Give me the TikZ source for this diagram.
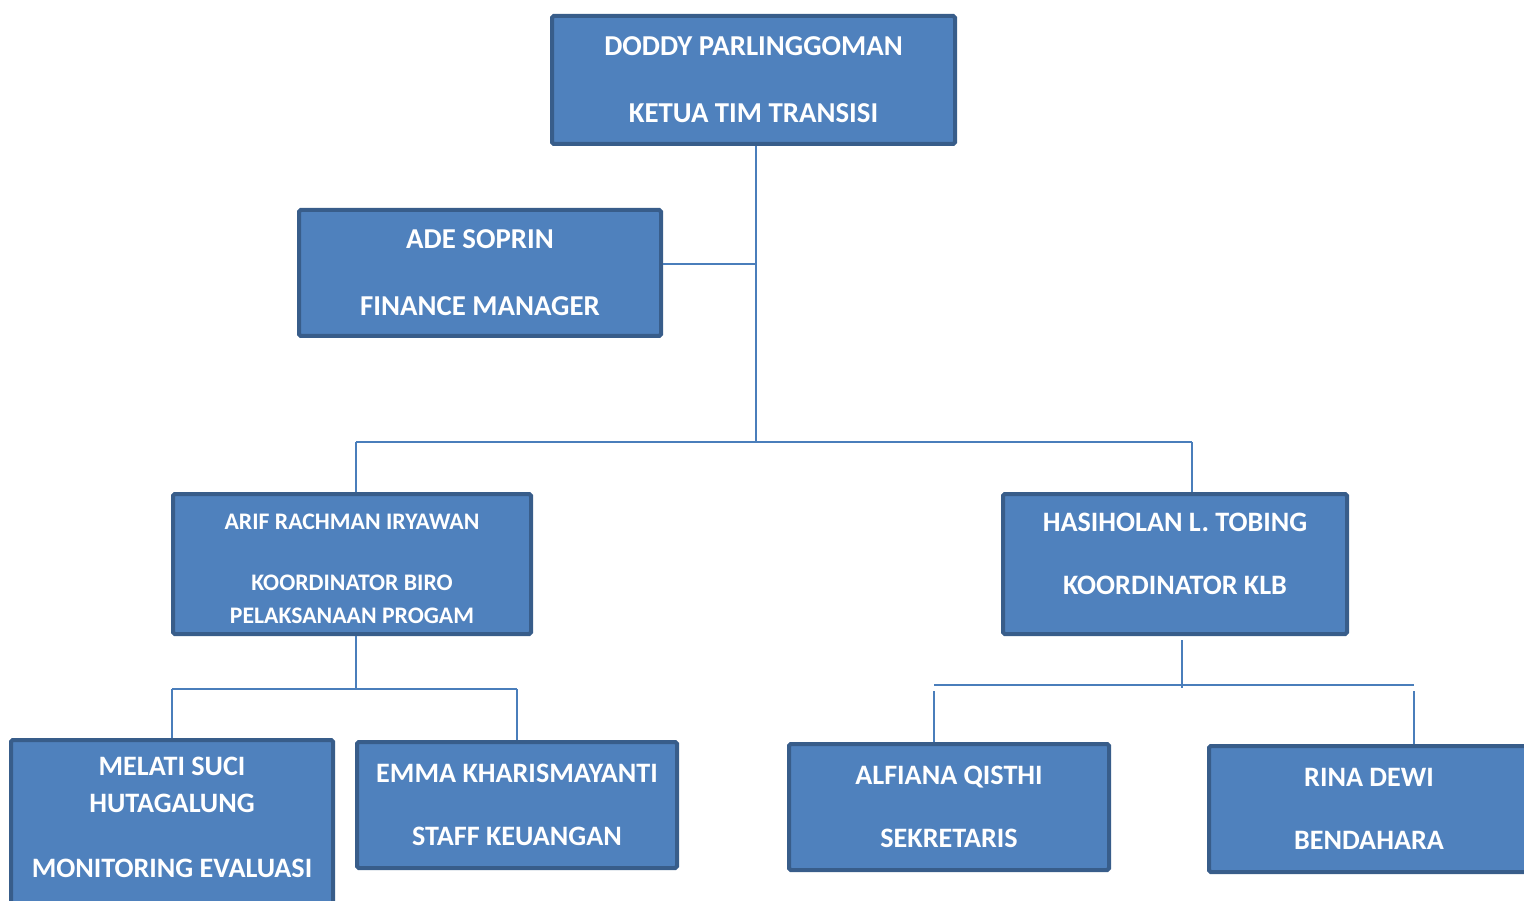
\documentclass[tikz,border=0pt]{standalone}
\usepackage{fontspec}
\setmainfont{Carlito}
\usepackage{tikz}
\usetikzlibrary{positioning}

\definecolor{boxfill}{HTML}{4F81BD}
\definecolor{boxline}{HTML}{385D8A}
\definecolor{linkline}{HTML}{4A7EBB}

\begin{document}
\begin{tikzpicture}[
        every node/.style={draw=boxline, fill=boxfill, line width=0.08cm, rounded corners=1pt,
            text=white, align=center, inner sep=0pt,
            font=\bfseries\fontsize{16}{19}\selectfont},
        wide/.style={minimum width=#1},
        tall/.style={minimum height=#1},
        bigtext/.style={font=\bfseries\fontsize{16.4}{19}\selectfont},
        smalltext/.style={font=\bfseries\fontsize{13.5}{18.7}\selectfont},
        link/.style={linkline, line width=0.04cm}
      ]
        \useasboundingbox (0,0) rectangle (30.48,-18.02);
        \clip (0,0) rectangle (30.48,-18.02);

        \node[wide=8.06cm, tall=2.56cm, bigtext] (doddy) at (15.07,-1.60) {DODDY PARLINGGOMAN\\[19pt]KETUA TIM TRANSISI};
        \node[wide=7.24cm, tall=2.52cm, bigtext] (ade) at (9.60,-5.46) {ADE SOPRIN\\[19pt]FINANCE MANAGER};
        \node[wide=7.16cm, tall=2.80cm, smalltext] (arif) at (7.04,-11.28) {\\[-0.16cm]ARIF RACHMAN IRYAWAN\\[16pt]KOORDINATOR BIRO\\PELAKSANAAN PROGAM};
        \node[wide=6.88cm, tall=2.80cm] (hasi) at (23.50,-11.28) {HASIHOLAN L. TOBING\\[17pt]KOORDINATOR KLB\\[-0.25cm]};
        \node[wide=6.44cm, tall=3.40cm, text depth=0.30cm, font=\bfseries\fontsize{16}{21}\selectfont] (melati) at (3.44,-16.50) {MELATI SUCI\\HUTAGALUNG\\[16pt]MONITORING EVALUASI};
        \node[wide=6.40cm, tall=2.52cm] (emma) at (10.34,-16.10) {EMMA KHARISMAYANTI\\[17pt]STAFF KEUANGAN};
        \node[wide=6.40cm, tall=2.52cm] (alfiana) at (18.98,-16.14) {ALFIANA QISTHI\\[17pt]SEKRETARIS};
        \node[wide=6.40cm, tall=2.52cm] (rina) at (27.38,-16.18) {RINA DEWI\\[17pt]BENDAHARA};

        % Junction points of the tree
        \coordinate (hub) at (15.12,-8.84);
        \coordinate (ja) at (7.12,-8.84);
        \coordinate (jh) at (23.84,-8.84);
        \coordinate (jb) at (7.12,-13.78);
        \coordinate (hk) at (23.64,-13.70);
        \coordinate (ka) at (18.68,-13.70);
        \coordinate (kr) at (28.28,-13.70);

        % Lines from the top
        \draw[link] (hub |- doddy.south) -- (hub);
        \draw[link] ([yshift=0.18cm]ade.east) -- ([yshift=0.18cm]ade.east -| hub);
        \draw[link] (ja) -- (jh);
        \draw[link] (ja) -- (ja |- arif.north);
        \draw[link] (jh) -- (jh |- hasi.north);

        % Lines below the coordinators
        \draw[link] (ja |- arif.south) -- (jb);
        \draw[link] (melati.north |- jb) -- (emma.north |- jb);
        \draw[link] (melati.north |- jb) -- (melati.north);
        \draw[link] (emma.north |- jb) -- (emma.north);
        \draw[link] ([yshift=-0.08cm]hk |- hasi.south) -- ([yshift=-0.06cm]hk);
        \draw[link] (ka) -- (kr);
        \draw[link] ([yshift=-0.12cm]ka) -- (ka |- alfiana.north);
        \draw[link] ([yshift=-0.12cm]kr) -- (kr |- rina.north);

    \end{tikzpicture}
\end{document}
